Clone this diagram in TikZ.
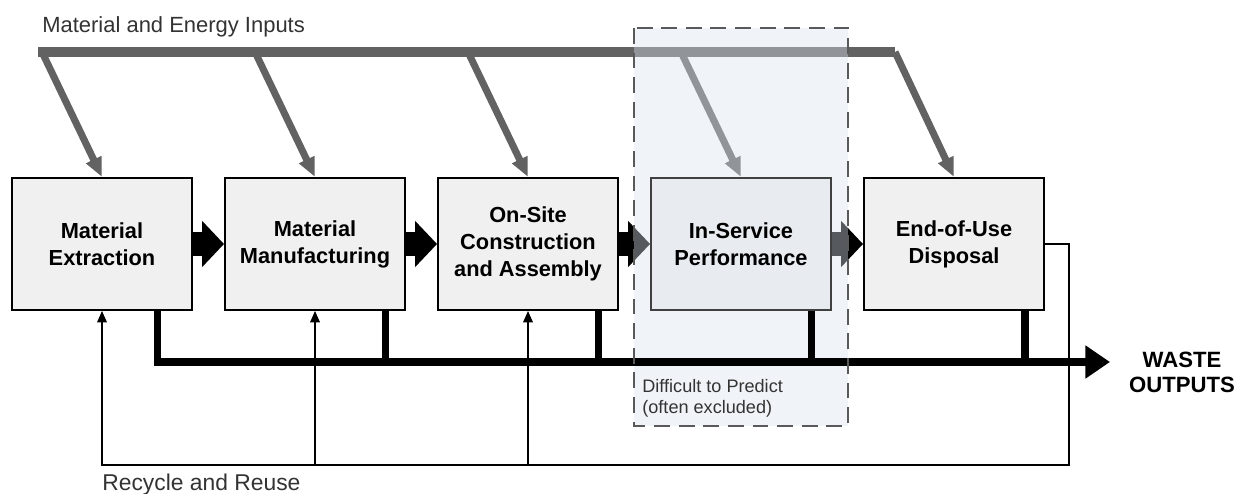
\documentclass[tikz,border=0pt]{standalone}
\usepackage{fontspec}
\setmainfont{Liberation Sans}
\usetikzlibrary{arrows.meta, positioning, backgrounds}
\definecolor{boxgray}{HTML}{F0F0F0}
\definecolor{servfill}{HTML}{E8ECF0}
\definecolor{bargray}{HTML}{626262}
\definecolor{zoneblue}{RGB}{217,227,237}
\definecolor{labelgray}{HTML}{333333}
\tikzstyle{stage} = [rectangle, minimum width=3.6cm, minimum height=2.64cm, align=center, text centered, draw=black, line width=1.1pt, fill=boxgray, font=\fontsize{12.4}{15.4}\selectfont\bfseries]
\tikzstyle{inarrow} = [line width=4pt, draw=bargray, -{Triangle[length=11pt,width=9pt]}]
\tikzstyle{bar} = [line width=5.6pt, draw=bargray]
\tikzstyle{flow} = [line width=14pt, -{Triangle[length=12.5pt,width=25.6pt]}]
\tikzstyle{waste} = [line width=4pt]
\tikzstyle{recycle} = [line width=0.8pt, -{Triangle[length=6.5pt,width=5.5pt]}]
\tikzstyle{zone} = [draw=black!65, line width=1.1pt, dash pattern=on 9pt off 5pt]

\begin{document}
\begin{tikzpicture}[node distance=4.26cm]
\useasboundingbox (0,0) rectangle (24.78,-9.88);

\node (b1) [stage] at (2.04,-4.88) {Material\\Extraction};
\node (b2) [stage, right of=b1] {Material\\Manufacturing};
\node (b3) [stage, right of=b2] {On-Site\\Construction\\and Assembly};
\node (b4) [stage, right of=b3, fill=servfill, draw=black!75] {In-Service\\Performance};
\node (b5) [stage, right of=b4] {End-of-Use\\Disposal};

\node (inLbl) [anchor=base west, inner sep=0pt, text=labelgray, font=\fontsize{12.5}{15}\selectfont] at (0.84,-0.66) {Material and Energy Inputs};
\coordinate (barL) at (0.76,-1.04);
\coordinate (barR) at (17.9,-1.04);

\begin{scope}[on background layer]
\draw[bar] (barL) -- (barR);
\draw[inarrow] ([xshift=-1.2cm]b1.north |- barL) -- (b1.north);
\draw[inarrow] ([xshift=-1.2cm]b2.north |- barL) -- (b2.north);
\draw[inarrow] ([xshift=-1.2cm]b3.north |- barL) -- (b3.north);
\draw[inarrow] ([xshift=-1.2cm]b4.north |- barL) -- (b4.north);
\draw[inarrow] (barR) -- (b5.north);
\draw[flow] (b1.east) -- (b2.west);
\draw[flow] (b2.east) -- (b3.west);
\draw[flow] (b3.east) -- (b4.west);
\draw[flow] (b4.east) -- (b5.west);
\fill[zoneblue, opacity=0.4] (12.68,-0.56) rectangle (16.96,-8.52);
\end{scope}

\coordinate (wasteEnd) at (22.2,-7.24);
\draw[waste, -{Triangle[length=14pt,width=18pt]}] ([xshift=-0.7cm]b1.south east) |- (wasteEnd);
\draw[waste] ([xshift=-0.4cm]b2.south east) -- ([xshift=-0.4cm]b2.south east |- wasteEnd);
\draw[waste] ([xshift=-0.4cm]b3.south east) -- ([xshift=-0.4cm]b3.south east |- wasteEnd);
\draw[waste] ([xshift=-0.4cm]b4.south east) -- ([xshift=-0.4cm]b4.south east |- wasteEnd);
\draw[waste] ([xshift=-0.4cm]b5.south east) -- ([xshift=-0.4cm]b5.south east |- wasteEnd);
\node (wasteLbl) [align=center, inner sep=0pt, font=\fontsize{12.6}{14.2}\selectfont\bfseries] at (23.64,-7.45) {WASTE\\OUTPUTS};

\coordinate (recR) at (21.38,-9.3);
\draw[recycle] (b5.east) -| (recR) -| (b1.south);
\draw[recycle] (b2.south |- recR) -- (b2.south);
\draw[recycle] (b3.south |- recR) -- (b3.south);
\node (recLbl) [anchor=base west, inner sep=0pt, text=labelgray, font=\fontsize{13}{15}\selectfont] at ([yshift=-0.51cm]b1.south |- recR) {Recycle and Reuse};

\draw[zone] (12.68,-0.56) rectangle (16.96,-8.52);
\node (noteLbl) [anchor=north west, align=left, inner sep=0pt, text=labelgray, font=\fontsize{10.3}{12}\selectfont] at (12.84,-7.58) {Difficult to Predict\\(often excluded)};

\end{tikzpicture}
\end{document}
